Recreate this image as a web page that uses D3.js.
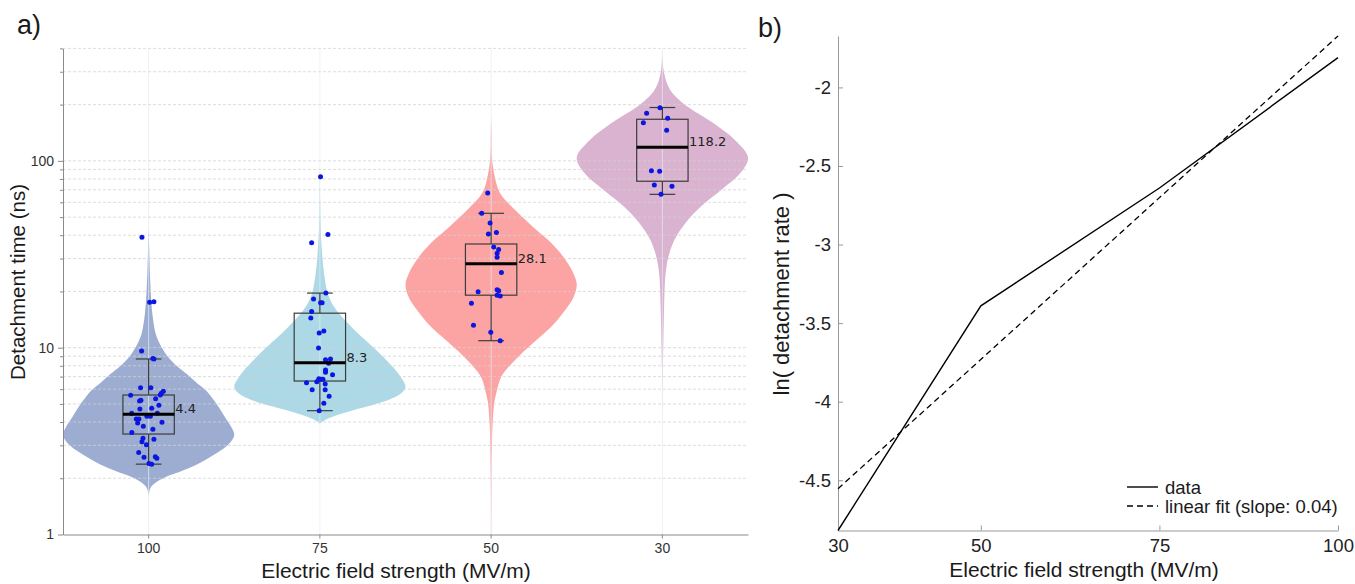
<!DOCTYPE html>
<html><head><meta charset="utf-8">
<script src="https://cdn.jsdelivr.net/npm/d3@7"></script>
<style>
body{margin:0;background:#fff;}
svg{display:block;font-family:"Liberation Sans",Arial,sans-serif;}
</style>
</head><body>
<svg id="chart" width="1355" height="584"></svg>
<script>
// ================= Panel a data =================
const categories = ["100", "75", "50", "30"];
const violinColors = ["#9cadd1", "#add8e6", "#fca3a3", "#d9b3d0"];
const medianLabels = ["4.4", "8.3", "28.1", "118.2"];
const boxQ1 = [3.45, 6.63, 19.1, 77.8];
const boxMedian = [4.4, 8.3, 28.1, 118.2];
const boxQ3 = [5.58, 15.3, 35.9, 167];
const whiskerLow = [2.38, 4.6, 10.9, 66.2];
const whiskerHigh = [8.7, 19.6, 52.4, 193];

// detachment times (ns) of individual runs, with the horizontal jitter (fraction of category width)
const points100 = [39.0, 17.5, 17.6, 9.6, 8.75, 8.7, 6.1, 6.1, 5.84, 5.7, 5.58, 5.56, 5.33, 5.23, 5.19, 4.92, 4.74, 4.70, 4.46, 4.29, 4.29, 4.46, 4.15, 4.15, 3.95, 3.99, 3.80, 3.66, 3.52, 3.28, 3.23, 3.14, 3.02, 2.75, 2.59, 2.61, 2.56, 2.40, 2.38];
const jitter100 = [-0.039, 0.006, 0.031, -0.041, 0.025, 0.031, -0.047, 0.013, 0.086, 0.074, 0.068, -0.105, 0.041, -0.045, -0.053, 0.060, 0.018, -0.051, -0.099, -0.010, 0.010, 0.051, -0.072, -0.057, -0.064, 0.078, -0.031, 0.025, -0.098, -0.033, 0.031, -0.039, -0.013, -0.058, -0.027, 0.039, 0.048, 0.002, 0.018];
const points75 = [82.3, 40.3, 36.5, 19.6, 18.2, 17.4, 17.4, 15.6, 14.4, 12.3, 12.0, 9.96, 8.62, 8.7, 8.25, 7.6, 7.38, 7.17, 6.82, 6.77, 6.77, 6.58, 6.5, 6.39, 5.96, 5.96, 5.5, 5.04, 4.6];
const jitter75 = [0.004, 0.047, -0.048, 0.035, -0.037, 0.004, 0.013, -0.048, -0.053, 0.023, -0.004, -0.008, 0.033, 0.062, 0.051, 0.033, 0.033, 0.074, -0.006, 0.006, 0.018, -0.018, -0.078, 0.031, -0.045, 0.031, 0.054, 0.023, -0.004];
const points50 = [67.3, 52.4, 46.5, 40.6, 41.3, 34.6, 33.5, 32.0, 30.5, 25.3, 19.9, 20.4, 20.2, 19.1, 18.9, 17.3, 13.2, 12.1, 10.9];
const jitter50 = [-0.020, -0.055, -0.006, -0.016, 0.031, 0.015, 0.044, 0.035, 0.035, 0.060, -0.076, 0.035, 0.044, 0.035, 0.053, -0.115, -0.103, -0.002, 0.053];
const points30 = [192.7, 179.8, 169, 160.1, 145.8, 88.6, 88.0, 74.3, 73.1, 66.2];
const jitter30 = [-0.014, -0.092, 0.031, -0.111, 0.025, -0.064, -0.016, -0.047, 0.056, -0.008];

// violin outlines: [detachment time, relative density]
const profile100 = [[1.6,0],[1.77,0.02],[1.89,0.08],[2.03,0.2],[2.2,0.4],[2.38,0.57],[2.6,0.72],[2.83,0.85],[3.1,0.95],[3.41,1.0],[3.8,0.96],[4.26,0.89],[4.8,0.82],[5.25,0.76],[5.9,0.67],[6.5,0.56],[7.2,0.45],[7.9,0.34],[9,0.22],[10.5,0.13],[12,0.08],[15,0.045],[18,0.03],[25,0.015],[35,0.006],[45,0]];
const profile75 = [[3.9,0],[4.0,0.02],[4.26,0.14],[4.64,0.4],[5.25,0.8],[5.7,0.95],[6.17,1.0],[7.0,0.94],[7.9,0.85],[9.7,0.66],[12,0.44],[14.6,0.26],[17,0.15],[19.6,0.09],[23,0.06],[27,0.04],[41,0.012],[62,0.004],[93,0]];
const profile50 = [[1,0.002],[1.5,0.003],[2.03,0.005],[3.0,0.01],[3.8,0.016],[5.0,0.035],[5.7,0.06],[7,0.12],[8.6,0.28],[10.6,0.49],[12.9,0.7],[16,0.87],[18.5,0.96],[21.7,1.0],[25,0.96],[29.5,0.87],[36.4,0.7],[44.3,0.49],[54.6,0.28],[67,0.105],[82,0.043],[101,0.012],[140,0.004],[180,0]];
const profile30 = [[4.1,0],[7.3,0.004],[11,0.012],[16.5,0.02],[25,0.038],[30.6,0.07],[37.7,0.14],[46.5,0.27],[57,0.45],[70,0.69],[86,0.91],[104,1.0],[129,0.85],[160,0.59],[194,0.3],[239,0.093],[295,0.02],[393,0]];

const yMajorTicks = [1, 10, 100];
const yMinorTicks = [2,3,4,5,6,7,8,9,20,30,40,50,60,70,80,90,200,300,400];

// ================= Panel b data =================
const fieldStrength = [30, 50, 75, 100];
const lnRate = [-4.82, -3.39, -2.64, -1.81];
const bXTicks = [30, 50, 75, 100];
const bYTicks = [-4.5, -4, -3.5, -3, -2.5, -2];

// ================= drawing =================
const svg = d3.select("#chart");
svg.append("rect").attr("width", 1355).attr("height", 584).attr("fill", "#fff");

const pointsAll = [points100, points75, points50, points30];
const jitterAll = [jitter100, jitter75, jitter50, jitter30];
const profiles = [profile100, profile75, profile50, profile30];

// ---------- Panel a ----------
const A = {left: 63, right: 748, top: 48.4, bottom: 534.5};
const x = d3.scaleBand().domain(categories).range([A.left, A.right]).padding(0);
const y = d3.scaleLog().domain([1, 400]).range([A.bottom, A.top]);
const bw = x.bandwidth();
const wScale = d3.scaleLinear().domain([0, 1]).range([0, bw / 2]);

svg.append("clipPath").attr("id", "clipA").append("rect")
  .attr("x", A.left).attr("y", A.top).attr("width", A.right - A.left).attr("height", A.bottom - A.top);

const gA = svg.append("g");

// violins
categories.forEach((c, i) => {
  const cx = x(c) + bw / 2;
  const area = d3.area()
    .y(d => y(d[0]))
    .x0(d => cx - wScale(d[1]))
    .x1(d => cx + wScale(d[1]))
    .curve(d3.curveCatmullRom.alpha(0.5));
  gA.append("path").datum(profiles[i])
    .attr("clip-path", "url(#clipA)")
    .attr("d", area)
    .attr("fill", violinColors[i]);
});

// grid (drawn faintly over the violins)
const gGrid = gA.append("g");
categories.forEach(c => {
  const cx = x(c) + bw / 2;
  gGrid.append("line").attr("x1", cx).attr("x2", cx).attr("y1", A.top).attr("y2", A.bottom)
    .attr("stroke", "#e6edf5").attr("stroke-opacity", 0.7).attr("stroke-width", 1);
});
yMajorTicks.concat(yMinorTicks).filter(t => t > 1).forEach(t => {
  gGrid.append("line").attr("x1", A.left).attr("x2", A.right).attr("y1", y(t)).attr("y2", y(t))
    .attr("stroke", "#d2d2d2").attr("stroke-opacity", 0.75).attr("stroke-width", 1)
    .attr("stroke-dasharray", "3,2");
});

// boxes
const boxW = bw * 0.3, capW = bw * 0.15;
categories.forEach((c, i) => {
  const cx = x(c) + bw / 2;
  const g = gA.append("g").attr("stroke", "#3c3c3c").attr("stroke-width", 1.2).attr("fill", "none");
  g.append("rect").attr("x", cx - boxW / 2).attr("width", boxW)
    .attr("y", y(boxQ3[i])).attr("height", y(boxQ1[i]) - y(boxQ3[i]));
  g.append("line").attr("x1", cx).attr("x2", cx).attr("y1", y(boxQ3[i])).attr("y2", y(whiskerHigh[i]));
  g.append("line").attr("x1", cx).attr("x2", cx).attr("y1", y(boxQ1[i])).attr("y2", y(whiskerLow[i]));
  g.append("line").attr("x1", cx - capW / 2).attr("x2", cx + capW / 2).attr("y1", y(whiskerHigh[i])).attr("y2", y(whiskerHigh[i]));
  g.append("line").attr("x1", cx - capW / 2).attr("x2", cx + capW / 2).attr("y1", y(whiskerLow[i])).attr("y2", y(whiskerLow[i]));
});

// points
categories.forEach((c, i) => {
  const cx = x(c) + bw / 2;
  gA.append("g").selectAll("circle").data(pointsAll[i]).join("circle")
    .attr("cx", (d, j) => cx + jitterAll[i][j] * bw)
    .attr("cy", d => y(d))
    .attr("r", 2.5)
    .attr("fill", "#0b16e0");
});

// medians + labels
categories.forEach((c, i) => {
  const cx = x(c) + bw / 2;
  gA.append("line").attr("x1", cx - boxW / 2).attr("x2", cx + boxW / 2)
    .attr("y1", y(boxMedian[i])).attr("y2", y(boxMedian[i]))
    .attr("stroke", "#000").attr("stroke-width", 3);
  gA.append("text").attr("x", cx + boxW / 2 + 1).attr("y", y(boxMedian[i]) - 1)
    .attr("font-family", "DejaVu Sans, sans-serif").attr("font-size", 13).attr("fill", "#222")
    .text(medianLabels[i]);
});

// axes
const axY = gA.append("g").attr("transform", `translate(${A.left},0)`)
  .call(d3.axisLeft(y).tickValues(yMajorTicks).tickFormat(d3.format("d")).tickSize(5).tickSizeOuter(0).tickPadding(4));
const axYm = gA.append("g").attr("transform", `translate(${A.left},0)`)
  .call(d3.axisLeft(y).tickValues(yMinorTicks).tickFormat("").tickSize(3).tickSizeOuter(0));
axYm.select(".domain").remove();
const axX = gA.append("g").attr("transform", `translate(0,${A.bottom})`)
  .call(d3.axisBottom(x).tickSize(4).tickSizeOuter(0).tickPadding(5));
[axY, axYm, axX].forEach(g => {
  g.selectAll(".domain, .tick line").attr("stroke", "#8a8a8a");
  g.selectAll("text").attr("font-size", 14).attr("fill", "#333").attr("font-family", "Liberation Sans, Arial, sans-serif");
});

gA.append("text").attr("x", 396).attr("y", 578).attr("text-anchor", "middle")
  .attr("font-size", 21).attr("fill", "#1a1a1a").text("Electric field strength (MV/m)");
gA.append("text").attr("transform", "translate(25,282) rotate(-90)").attr("text-anchor", "middle")
  .attr("font-size", 20.5).attr("fill", "#1a1a1a").text("Detachment time (ns)");
svg.append("text").attr("x", 17).attr("y", 34).attr("font-size", 27).attr("fill", "#1a1a1a").text("a)");

// ---------- Panel b ----------
const B = {left: 838, right: 1338, top: 36, bottom: 530.5};
const meanX = d3.mean(fieldStrength), meanY = d3.mean(lnRate);
const slope = d3.sum(fieldStrength, (v, k) => (v - meanX) * (lnRate[k] - meanY)) /
              d3.sum(fieldStrength, v => (v - meanX) ** 2);
const intercept = meanY - slope * meanX;
const fitEnds = d3.extent(fieldStrength).map(v => [v, intercept + slope * v]);

const xb = d3.scaleLinear().domain(d3.extent(fieldStrength)).range([B.left, B.right]);
const yb = d3.scaleLinear()
  .domain([Math.min(d3.min(lnRate), d3.min(fitEnds, d => d[1])), Math.max(d3.max(lnRate), d3.max(fitEnds, d => d[1]))])
  .range([B.bottom, B.top]);

const gB = svg.append("g");
const axYb = gB.append("g").attr("transform", `translate(${B.left},0)`)
  .call(d3.axisLeft(yb).tickValues(bYTicks).tickFormat(d => String(d)).tickSize(-5).tickSizeOuter(0).tickPadding(7));
const axXb = gB.append("g").attr("transform", `translate(0,${B.bottom})`)
  .call(d3.axisBottom(xb).tickValues(bXTicks).tickFormat(d => String(d)).tickSize(-5).tickSizeOuter(0).tickPadding(8));
[axYb, axXb].forEach(g => {
  g.selectAll(".domain, .tick line").attr("stroke", "#999");
  g.selectAll("text").attr("font-size", 18.5).attr("fill", "#222").attr("font-family", "Liberation Sans, Arial, sans-serif");
});

const line = d3.line().x(d => xb(d[0])).y(d => yb(d[1]));
gB.append("path").datum(fieldStrength.map((v, k) => [v, lnRate[k]]))
  .attr("d", line).attr("fill", "none").attr("stroke", "#000").attr("stroke-width", 1.4);
gB.append("path").datum(fitEnds)
  .attr("d", line).attr("fill", "none").attr("stroke", "#000").attr("stroke-width", 1.3)
  .attr("stroke-dasharray", "6,4");

// legend
const lg = gB.append("g").attr("font-size", 18.5).attr("fill", "#1a1a1a");
lg.append("line").attr("x1", 1127).attr("x2", 1158).attr("y1", 487).attr("y2", 487).attr("stroke", "#000").attr("stroke-width", 1.4);
lg.append("text").attr("x", 1165).attr("y", 493.5).text("data");
lg.append("line").attr("x1", 1127).attr("x2", 1158).attr("y1", 506).attr("y2", 506).attr("stroke", "#000").attr("stroke-width", 1.3).attr("stroke-dasharray", "6,4");
lg.append("text").attr("x", 1165).attr("y", 512.5).text("linear fit (slope: " + d3.format(".2f")(slope) + ")");

gB.append("text").attr("x", 1084).attr("y", 577).attr("text-anchor", "middle")
  .attr("font-size", 21).attr("fill", "#1a1a1a").text("Electric field strength (MV/m)");
gB.append("text").attr("transform", "translate(789,294) rotate(-90)").attr("text-anchor", "middle")
  .attr("font-size", 22).attr("fill", "#1a1a1a").text("ln( detachment rate )");
svg.append("text").attr("x", 758).attr("y", 37).attr("font-size", 27).attr("fill", "#1a1a1a").text("b)");
</script>
</body></html>
